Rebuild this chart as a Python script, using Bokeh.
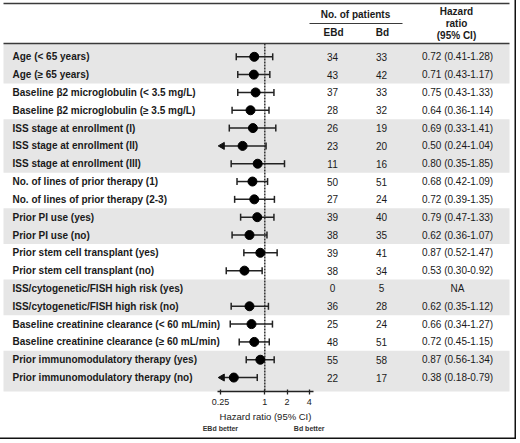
import math
from bokeh.plotting import figure
from bokeh.models import (Range1d, LogScale, LogAxis, FixedTicker,
                          NumeralTickFormatter, ColumnDataSource)
from bokeh.core.properties import value
from bokeh.embed import file_html
from bokeh.resources import INLINE

# ---------------- data ----------------
subgroups = [
    "Age (< 65 years)",
    "Age (\u2265 65 years)",
    "Baseline \u03b22 microglobulin (< 3.5 mg/L)",
    "Baseline \u03b22 microglobulin (\u2265 3.5 mg/L)",
    "ISS stage at enrollment (I)",
    "ISS stage at enrollment (II)",
    "ISS stage at enrollment (III)",
    "No. of lines of prior therapy (1)",
    "No. of lines of prior therapy (2-3)",
    "Prior PI use (yes)",
    "Prior PI use (no)",
    "Prior stem cell transplant (yes)",
    "Prior stem cell transplant (no)",
    "ISS/cytogenetic/FISH high risk (yes)",
    "ISS/cytogenetic/FISH high risk (no)",
    "Baseline creatinine clearance (< 60 mL/min)",
    "Baseline creatinine clearance (\u2265 60 mL/min)",
    "Prior immunomodulatory therapy (yes)",
    "Prior immunomodulatory therapy (no)",
]
group_id = [0, 0, 1, 1, 2, 2, 2, 3, 3, 4, 4, 5, 5, 6, 6, 7, 7, 8, 8]
ebd_n = [34, 43, 37, 28, 26, 23, 11, 50, 27, 39, 38, 39, 38, 0, 36, 25, 48, 55, 22]
bd_n = [33, 42, 33, 32, 19, 20, 16, 51, 24, 40, 35, 41, 34, 5, 28, 24, 51, 58, 17]
hr = [0.72, 0.71, 0.75, 0.64, 0.69, 0.50, 0.80, 0.68, 0.72, 0.79, 0.62, 0.87, 0.53,
      None, 0.62, 0.66, 0.72, 0.87, 0.38]
hr_low = [0.41, 0.43, 0.43, 0.36, 0.33, 0.24, 0.35, 0.42, 0.39, 0.47, 0.36, 0.52, 0.30,
          None, 0.35, 0.34, 0.45, 0.56, 0.18]
hr_high = [1.28, 1.17, 1.33, 1.14, 1.41, 1.04, 1.85, 1.09, 1.35, 1.33, 1.07, 1.47, 0.92,
           None, 1.12, 1.27, 1.15, 1.34, 0.79]
axis_ticks = [0.25, 1, 2, 4]
axis_title = "Hazard ratio (95% CI)"
favour_labels = ["EBd better", "Bd better"]
favour_at = [0.25, 4]
header_patients = "No. of patients"
header_arms = ["EBd", "Bd"]
header_hr = ["Hazard", "ratio", "(95% CI)"]

# ---------------- layout constants ----------------
W, H = 520, 443
X_ONE = 268.3            # horizontal position of HR = 1
PX_PER_DOUBLING = 22.2
ROW0, ROW_STEP = 60.3, 17.82
AXIS_Y = 395
CLIP_LOW = 0.265
FONT = value("Liberation Sans")
INK = "#1a1a1a"


def hr_at(px):
    return 2 ** ((px - X_ONE) / PX_PER_DOUBLING)


n = len(subgroups)
row_y = [ROW0 + ROW_STEP * i for i in range(n)]

p = figure(width=W, height=H, x_range=Range1d(0, W), y_range=Range1d(H, 0),
           output_backend="svg", toolbar_location=None, min_border=0,
           x_axis_type=None, y_axis_type=None, margin=(-4, -4, -4, -4))
p.outline_line_color = None
p.background_fill_color = "white"
p.border_fill_color = "white"
p.extra_x_ranges = {"hr": Range1d(hr_at(0), hr_at(W))}
p.extra_x_scales = {"hr": LogScale()}

# ---------------- banded background ----------------
band_top, band_bot = [], []
groups = sorted(set(group_id))
for g in groups:
    if g % 2:
        continue
    rows = [i for i in range(n) if group_id[i] == g]
    top = row_y[rows[0]] - ROW_STEP / 2
    bot = row_y[rows[-1]] + ROW_STEP / 2
    if g == groups[0]:
        top = 47
    if g == groups[-1]:
        bot = AXIS_Y
    band_top.append(top)
    band_bot.append(bot)
p.quad(left=7, right=513, top=band_top, bottom=band_bot,
       fill_color="#e6e6e6", line_color=None)

# outer frame
p.quad(left=[0, 518, 0], right=[2, 520, 520], top=[0, 0, 441], bottom=[443, 443, 443],
       fill_color="#111111", line_color=None)

# header rules
p.segment(x0=[7, 7, 313], x1=[513, 513, 406], y0=[7, 47, 27], y1=[7, 47, 27],
          line_color="#3a3a3a", line_width=[1.6, 1.6, 1.2])

# header texts
p.text(x=[359], y=[18], text=[header_patients], text_font=FONT, text_font_size="10px",
       text_font_style="bold", text_align="center", text_baseline="middle", text_color=INK)
p.text(x=[337, 386], y=[35.5, 35.5], text=header_arms, text_font=FONT, text_font_size="10px",
       text_font_style="bold", text_align="center", text_baseline="middle", text_color=INK)
p.text(x=[460] * 3, y=[15, 27, 39], text=header_hr, text_font=FONT, text_font_size="10px",
       text_font_style="bold", text_align="center", text_baseline="middle", text_color=INK)

# row labels and numbers
hr_text = [("NA" if hr[i] is None else f"{hr[i]:.2f} ({hr_low[i]:.2f}-{hr_high[i]:.2f})")
           for i in range(n)]
p.text(x=[16] * n, y=row_y, text=subgroups, text_font=FONT, text_font_size="10px",
       text_font_style="bold", text_align="left", text_baseline="middle", text_color=INK)
p.text(x=[336] * n, y=row_y, text=[str(v) for v in ebd_n], text_font=FONT,
       text_font_size="10px", text_align="center", text_baseline="middle", text_color=INK)
p.text(x=[385] * n, y=row_y, text=[str(v) for v in bd_n], text_font=FONT,
       text_font_size="10px", text_align="center", text_baseline="middle", text_color=INK)
p.text(x=[461] * n, y=row_y, text=hr_text, text_font=FONT,
       text_font_size="10px", text_align="center", text_baseline="middle", text_color=INK)

# reference line at HR = 1
p.segment(x0=[1], x1=[1], y0=[47], y1=[AXIS_Y], x_range_name="hr",
          line_color="#333333", line_width=1.5, line_dash="2 1")

# ---------------- forest ----------------
idx = [i for i in range(n) if hr[i] is not None]
lo_c = [max(hr_low[i], CLIP_LOW) for i in idx]
src = ColumnDataSource(dict(
    y=[row_y[i] for i in idx], hr=[hr[i] for i in idx],
    lo=lo_c, hi=[hr_high[i] for i in idx]))
p.segment(x0="lo", x1="hi", y0="y", y1="y", source=src, x_range_name="hr",
          line_color="#222222", line_width=1.5)
p.scatter(x="hi", y="y", source=src, x_range_name="hr", marker="dash", angle=math.pi / 2,
          size=7, line_color="#222222", line_width=1.5)
cap_idx = [i for i in idx if hr_low[i] >= CLIP_LOW]
arr_idx = [i for i in idx if hr_low[i] < CLIP_LOW]
p.scatter(x=[hr_low[i] for i in cap_idx], y=[row_y[i] for i in cap_idx], x_range_name="hr",
          marker="dash", angle=math.pi / 2, size=7, line_color="#222222", line_width=1.5)
p.scatter(x=[CLIP_LOW] * len(arr_idx), y=[row_y[i] for i in arr_idx], x_range_name="hr",
          marker="triangle", angle=math.pi / 2, size=7, fill_color="#111111",
          line_color="#111111")
p.scatter(x="hr", y="y", source=src, x_range_name="hr", marker="circle", size=9,
          fill_color="#000000", line_color="#000000")

# ---------------- axis ----------------
ax = LogAxis(x_range_name="hr", ticker=FixedTicker(ticks=axis_ticks, minor_ticks=[]),
             formatter=NumeralTickFormatter(format="0.[00]"), fixed_location=AXIS_Y,
             bounds=(hr_at(220.7), hr_at(316.7)), axis_label=axis_title)
ax.axis_line_color = "#222222"
ax.axis_line_width = 1.3
ax.major_tick_line_color = "#222222"
ax.major_tick_line_width = 1.3
ax.major_tick_in = 2
ax.major_tick_out = 3
ax.minor_tick_line_color = None
ax.major_label_text_font = "Liberation Sans"
ax.major_label_text_font_size = "9px"
ax.major_label_text_color = INK
ax.major_label_standoff = 4
ax.axis_label_text_font = "Liberation Sans"
ax.axis_label_text_font_size = "9.5px"
ax.axis_label_text_font_style = "normal"
ax.axis_label_text_color = INK
ax.axis_label_standoff = 3
p.add_layout(ax, "below")

p.text(x=favour_at, y=[432, 432], text=favour_labels, x_range_name="hr", text_font=FONT,
       text_font_size="7px", text_font_style="bold", text_align="center",
       text_baseline="middle", text_color="#333333")

open("out.html", "w").write(file_html(p, INLINE))
